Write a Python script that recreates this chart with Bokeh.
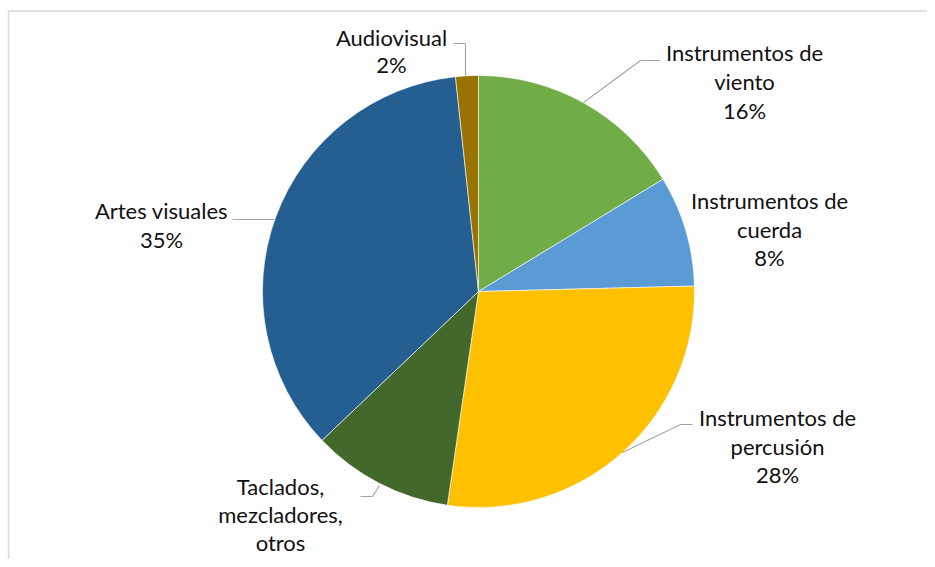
import math
from bokeh.plotting import figure
from bokeh.models import Range1d, ColumnDataSource
from bokeh.core.properties import value
from bokeh.embed import file_html
from bokeh.resources import INLINE

# ---- data ----
categories = ["Instrumentos de viento", "Instrumentos de cuerda", "Instrumentos de percusión",
              "Taclados, mezcladores, otros", "Artes visuales", "Audiovisual"]
shares = [16.3, 8.3, 27.7, 10.6, 35.4, 1.7]
colors = ["#70AD47", "#5B9BD5", "#FFC000", "#43682B", "#255E91", "#997300"]
label_names = [["Instrumentos de", "viento"], ["Instrumentos de", "cuerda"],
               ["Instrumentos de", "percusión"], ["Taclados,", "mezcladores,", "otros"],
               ["Artes visuales"], ["Audiovisual"]]
show_pct = [True, True, True, False, True, True]

# ---- layout (image pixel positions) ----
W, H = 927, 559
def sy(y):
    return H - y

CX, CY, R = 478, 291, 216
TEXT_SHIFT = -8
label_pos = [(744, 60), (769, 208), (777, 425), (280, 494), (161, 218), (391, 45)]
line_gap = [29, 28.5, 28.5, 28, 29, 27]
leaders = [
    [(660, 60), (640, 60), (583, 102)],
    None,
    [(692, 424), (680, 424), (622, 452)],
    [(360, 496), (372, 496), (379, 485)],
    [(232, 219), (274, 219)],
    [(453, 43), (465, 43), (465, 75)],
]

p = figure(width=W, height=H, x_range=Range1d(0, W), y_range=Range1d(0, H),
           output_backend="svg", toolbar_location=None, min_border=0,
           x_axis_location=None, y_axis_location=None)
p.grid.visible = False
p.outline_line_color = None
p.background_fill_color = "white"
p.border_fill_color = "white"

# chart area border (partially visible)
p.line(x=[8, 8, W], y=[sy(H), sy(10.5), sy(10.5)], line_color="#D9D9D9", line_width=1.5)

# wedges
total = sum(shares)
starts, ends = [], []
cum = 0.0
for s in shares:
    a0 = math.pi / 2 - 2 * math.pi * cum / total
    cum += s
    a1 = math.pi / 2 - 2 * math.pi * cum / total
    starts.append(a0)
    ends.append(a1)
src = ColumnDataSource(dict(start=starts, end=ends, color=colors, cat=categories))
p.wedge(x=CX, y=sy(CY), radius=R, radius_units="screen", start_angle="start", end_angle="end",
        direction="clock", fill_color="color", line_color="white", line_width=0.6, source=src)

# leader lines
xs, ys = [], []
for ld in leaders:
    if ld is None:
        continue
    xs.append([pt[0] for pt in ld])
    ys.append([sy(pt[1]) for pt in ld])
p.multi_line(xs=xs, ys=ys, line_color="#A6A6A6", line_width=1.2)

# labels
tx, ty, tt = [], [], []
for i, names in enumerate(label_names):
    lines = list(names)
    if show_pct[i]:
        lines.append(f"{round(shares[i] / total * 100)}%")
    x0, y0 = label_pos[i]
    for j, t in enumerate(lines):
        tx.append(x0)
        ty.append(sy(y0 + TEXT_SHIFT + j * line_gap[i]))
        tt.append(t)
p.text(x=tx, y=ty, text=tt, text_align="center", text_baseline="alphabetic",
       text_font=value("Lato"), text_font_size="22px", text_color="#111111")

open("out.html", "w").write(file_html(p, INLINE))
